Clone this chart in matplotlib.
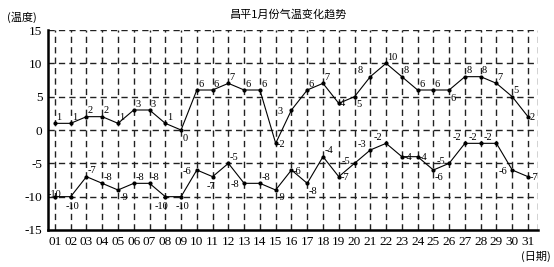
import matplotlib.pyplot as plt
import numpy as np

plt.rcParams['font.family'] = ['Liberation Serif', 'Noto Sans CJK SC']

days = list(range(1, 32))
day_labels = ['%02d' % d for d in days]
high = [1, 1, 2, 2, 1, 3, 3, 1, 0, 6, 6, 7, 6, 6, -2, 3, 6, 7, 4, 5,
        8, 10, 8, 6, 6, 6, 8, 8, 7, 5, 2]
low = [-10, -10, -7, -8, -9, -8, -8, -10, -10, -6, -7, -5, -8, -8, -9, -6,
       -8, -4, -7, -5, -3, -2, -4, -4, -6, -5, -2, -2, -2, -6, -7]

# label placement: default up-right, a few moved like the original
UR, DR, UL, DL, R, L, D = (1, 1), (1, -9), (-9, 1), (-11, -9), (1, -4), (-10, -4), (-4, -10)
high_pos = {9: DR, 15: R, 16: L, 20: DR, 21: UL, 26: DR, 31: R, 19: (1, -3)}
low_pos = {1: (-5, -2), 2: D, 5: DR, 8: (-8, -10), 9: (-4, -10), 10: L, 11: D,
           13: L, 15: DR, 16: R, 17: DR, 19: R, 20: (-9, -2), 21: UL, 22: UL,
           23: R, 24: R, 25: DR, 26: (-9, -2), 27: UL, 28: UL, 29: UL, 30: L, 31: R}

fig = plt.figure(figsize=(5.54, 2.67), dpi=100)
ax = fig.add_axes([0.0866, 0.1386, 0.971 - 0.0866, 0.8876 - 0.1386])

x0, x1 = 0.56, 31.63
ax.set_xlim(x0, x1)
ax.set_ylim(-15, 15)

# dashed grid
dash = (0, (4.5, 3))
for d in days:
    ax.axvline(d, color='#222222', lw=1.0, ls=dash, zorder=1)
ax.axvline(x1 - 0.02, color='#222222', lw=1.0, ls=dash, zorder=1)
for yv in [-10, -5, 0, 5, 10, 15]:
    ax.axhline(yv, color='#222222', lw=1.0, ls=dash, zorder=1)

ax.plot(days, high, color='black', lw=0.8, marker='o', ms=2, zorder=3)
ax.plot(days, low, color='black', lw=0.8, marker='o', ms=2, zorder=3)

for d, v in zip(days, high):
    ax.annotate(str(v), (d, v), xytext=high_pos.get(d, UR), textcoords='offset points',
                fontsize=7.5, ha='left', va='bottom', zorder=4)
for d, v in zip(days, low):
    ax.annotate(str(v), (d, v), xytext=low_pos.get(d, UR), textcoords='offset points',
                fontsize=7.5, ha='left', va='bottom', zorder=4)

ax.spines['top'].set_visible(False)
ax.spines['right'].set_visible(False)
ax.spines['left'].set_linewidth(1.8)
ax.spines['bottom'].set_linewidth(1.8)

ax.set_xticks(days)
ax.set_xticklabels(day_labels, fontsize=9.5, family=['Liberation Serif'])
ax.set_yticks([-15, -10, -5, 0, 5, 10, 15])
ax.set_yticklabels(['-15', '-10', '-5', '0', '5', '10', '15'], fontsize=9.5,
                   family=['Liberation Serif'])
ax.tick_params(length=0, pad=4)

fig.text(0.52, 0.945, '昌平1月份气温变化趋势', ha='center', va='center',
         fontsize=8, family=['Noto Sans CJK SC'])
fig.text(0.012, 0.935, '(温度)', ha='left', va='center',
         fontsize=8, family=['Noto Sans CJK SC'])
fig.text(0.995, 0.04, '(日期)', ha='right', va='center',
         fontsize=8, family=['Noto Sans CJK SC'])

fig.savefig('out.png', dpi=100)
